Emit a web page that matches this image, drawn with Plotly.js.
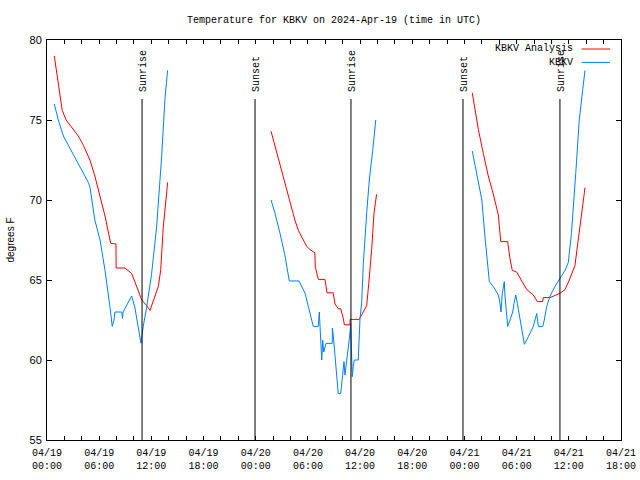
<!DOCTYPE html>
<html>
<head>
<meta charset="utf-8">
<script src="https://cdn.plot.ly/plotly-3.0.1.min.js"></script>
<style>html,body{margin:0;padding:0;background:#fff;}#chart{width:640px;height:480px;}</style>
</head>
<body>
<div id="chart"></div>
<script>
// Hours since 2024-04-19 00:00 UTC; null separates the separate runs
const analysisTime = [0.84,1.3,1.75,2.2,2.64,3.2,3.6,4.2,4.94,5.5,6.1,6.67,7.32,7.93,7.95,8.97,9.74,10.3,10.9,11.46,11.84,12.8,13.07,13.37,13.57,13.87,
  null,
  25.76,26.2,26.8,27.37,27.94,28.5,28.9,29.47,29.86,30.24,30.8,30.85,31.2,31.96,32.2,32.9,33.12,33.5,33.77,34.07,34.19,34.84,34.85,35.9,36.18,36.76,37.0,37.33,37.6,37.9,
  null,
  48.9,49.2,49.6,50.17,50.74,51.3,51.9,52.17,52.97,53.2,53.5,54.0,54.58,55.16,55.92,56.38,56.99,57.06,57.84,58.61,58.99,59.56,60.06,60.7,61.1,61.5,61.86];
const analysisTemp = [79.0,77.4,75.6,75.0,74.7,74.3,74.0,73.4,72.5,71.5,70.2,69.0,67.3,67.25,65.75,65.75,65.4,64.6,63.75,63.4,63.1,64.6,65.6,68.3,69.6,71.1,
  null,
  74.3,73.4,72.3,71.1,70.0,68.75,68.1,67.5,67.1,66.9,66.7,65.8,65.04,65.04,64.2,64.2,63.5,63.2,63.2,62.6,62.2,62.2,62.54,62.54,62.8,63.4,64.8,66.9,69.2,70.36,
  null,
  76.7,75.6,74.4,72.9,71.5,70.4,69.06,67.4,67.4,66.45,65.6,65.5,64.9,64.4,64.06,63.65,63.65,63.9,63.9,64.06,64.17,64.4,65.0,65.9,67.5,69.2,70.77];

const obsTime = [0.84,1.3,1.88,2.84,3.8,4.75,4.94,5.5,6.1,6.67,7.24,7.5,7.7,7.82,8.6,8.68,8.75,9.73,10.1,10.5,10.8,11.07,11.46,12.03,12.6,13.18,13.57,13.87,
  null,
  25.76,26.2,26.8,27.37,27.86,28.98,29.67,30.05,30.62,31.19,31.31,31.59,31.7,31.82,32.08,32.8,32.81,32.92,33.03,33.49,33.77,34.0,34.15,34.26,34.46,34.64,34.84,34.92,35.03,35.1,35.22,35.33,35.79,35.87,35.99,36.18,36.37,36.76,37.06,37.45,37.8,
  null,
  48.9,49.4,50.0,50.36,50.63,50.86,51.43,51.9,52.09,52.2,52.35,52.47,52.58,52.66,52.86,52.97,53.24,53.55,53.7,53.9,54.08,54.39,54.66,54.89,55.35,55.92,56.31,56.5,57.0,57.18,57.45,57.84,58.41,58.99,59.56,59.94,60.3,60.8,61.2,61.6,61.86];
const obsTemp = [76.0,75.0,74.0,73.0,72.0,71.1,70.8,68.75,67.5,65.6,63.3,62.1,62.5,63.0,63.0,62.6,63.0,64.0,63.3,62.1,61.05,62.1,63.3,65.4,68.3,72.7,76.4,78.1,
  null,
  70.0,69.2,67.9,66.5,64.94,64.94,64.17,63.3,62.1,62.1,63.0,60.0,61.25,60.5,61.04,61.04,62.0,61.5,60.7,57.9,57.9,59.4,59.9,59.06,59.9,60.6,61.7,62.3,60.0,58.96,59.6,60.0,60.0,61.06,62.6,63.56,66.0,69.2,71.25,73.1,75.0,
  null,
  73.06,71.7,70.0,67.7,66.25,64.9,64.5,64.06,63.54,63.0,64.17,64.7,64.9,64.0,62.6,62.1,62.5,63.0,63.54,64.06,63.54,62.5,61.56,60.98,61.46,62.1,62.9,62.1,62.1,62.5,63.33,64.0,64.6,65.1,65.6,66.1,67.9,71.7,75.0,76.9,78.1];

const sunTimes = [10.93, 23.92, 34.95, 47.83, 58.98];
const sunLabels = ['Sunrise', 'Sunset', 'Sunrise', 'Sunset', 'Sunrise'];

const xTickVals = [0, 6, 12, 18, 24, 30, 36, 42, 48, 54, 60, 66];
const xTickLabels = ['04/19<br>00:00','04/19<br>06:00','04/19<br>12:00','04/19<br>18:00',
                     '04/20<br>00:00','04/20<br>06:00','04/20<br>12:00','04/20<br>18:00',
                     '04/21<br>00:00','04/21<br>06:00','04/21<br>12:00','04/21<br>18:00'];
const seriesNames = ['KBKV Analysis', 'KBKV'];
const seriesColors = ['#ff0000', '#0080ff'];

const MONO = 'Liberation Mono, DejaVu Sans Mono, monospace';
const SANS = 'Liberation Sans, Arial, sans-serif';

const traces = [
  {x: analysisTime, y: analysisTemp, mode: 'lines', name: seriesNames[0],
   line: {color: seriesColors[0], width: 1}, connectgaps: false, showlegend: false},
  {x: obsTime, y: obsTemp, mode: 'lines', name: seriesNames[1],
   line: {color: seriesColors[1], width: 1}, connectgaps: false, showlegend: false}
];

const shapes = sunTimes.map(t => ({
  type: 'line', xref: 'x', yref: 'paper', x0: t, x1: t, y0: 0, y1: 0.8525,
  line: {color: '#000', width: 1}
}));
const annotations = sunTimes.map((t, i) => ({
  x: t, xref: 'x', y: 0.865, yref: 'paper', text: sunLabels[i], textangle: -90,
  showarrow: false, xanchor: 'center', yanchor: 'bottom', xshift: 1,
  font: {family: MONO, size: 10, color: '#000'}
}));

// legend drawn gnuplot-style: text right-aligned, sample line to its right
const legY = [0.9775, 0.944];
seriesNames.forEach((n, i) => {
  annotations.push({x: 0.92, xref: 'paper', y: legY[i], yref: 'paper', text: n,
    showarrow: false, xanchor: 'right', yanchor: 'middle',
    font: {family: MONO, size: 10, color: '#000'}});
  shapes.push({type: 'line', xref: 'paper', yref: 'paper', x0: 0.9315, x1: 0.981,
    y0: legY[i], y1: legY[i], line: {color: seriesColors[i], width: 1}});
});

const layout = {
  width: 640, height: 480,
  margin: {l: 47, r: 19, t: 40, b: 40},
  paper_bgcolor: '#fff', plot_bgcolor: '#fff',
  showlegend: false,
  title: {text: 'Temperature for KBKV on 2024-Apr-19 (time in UTC)',
          font: {family: MONO, size: 10, color: '#000'},
          x: 0.5, xref: 'paper', xanchor: 'center', y: 0.96, yref: 'container', yanchor: 'middle'},
  xaxis: {range: [0, 66], tickmode: 'array', tickvals: xTickVals, ticktext: xTickLabels,
          ticks: 'inside', ticklen: 4, tickcolor: '#000', tickwidth: 1,
          minor: {dtick: 2, ticks: 'inside', ticklen: 4, tickcolor: '#000', showgrid: false},
          showline: true, linecolor: '#000', linewidth: 1, mirror: 'ticks',
          showgrid: false, zeroline: false, ticklabelstandoff: 3,
          tickfont: {family: MONO, size: 10, color: '#000'}},
  yaxis: {range: [55, 80], dtick: 5, ticks: 'inside', ticklen: 5, tickcolor: '#000', tickwidth: 1,
          showline: true, linecolor: '#000', linewidth: 1, mirror: 'ticks',
          showgrid: false, zeroline: false, ticklabelstandoff: 2,
          tickfont: {family: SANS, size: 11, color: '#000'},
          title: {text: 'degrees F', font: {family: SANS, size: 10, color: '#000'}, standoff: 13}},
  shapes: shapes,
  annotations: annotations
};

Plotly.newPlot('chart', traces, layout, {staticPlot: true, displayModeBar: false});
</script>
</body>
</html>
